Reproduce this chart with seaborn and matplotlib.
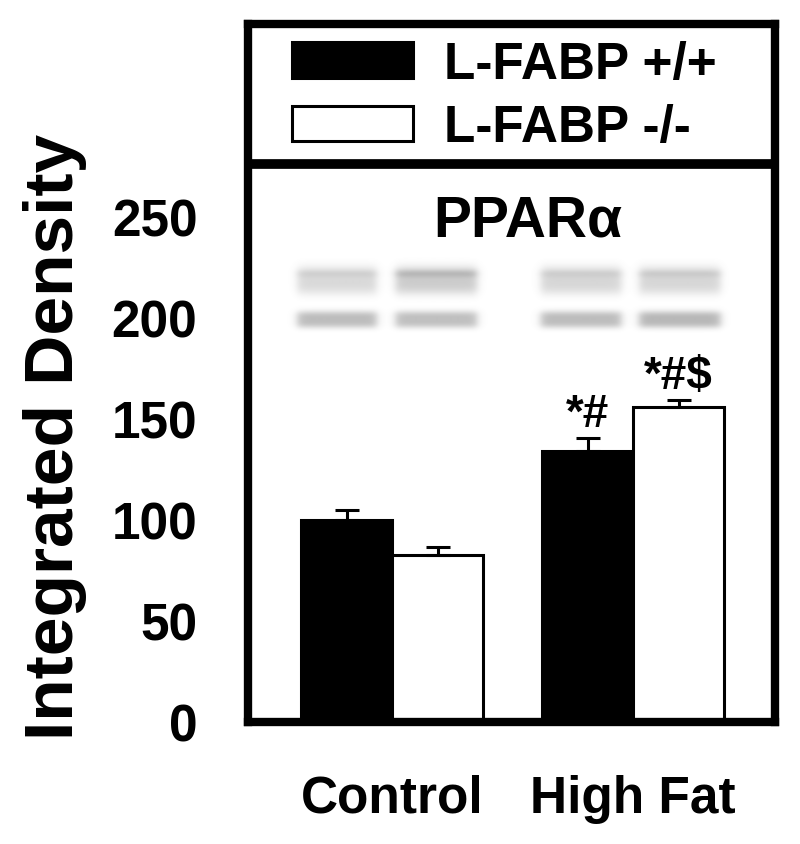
import matplotlib
matplotlib.use("Agg")
import matplotlib.pyplot as plt
import numpy as np
import pandas as pd
import seaborn as sns
from matplotlib.patches import Patch

# Dados
diets = ["Control", "High Fat"]
genotypes = ["L-FABP +/+", "L-FABP -/-"]
wt_values = [100, 134]
ko_values = [82.5, 156]
wt_sem = [5, 6.5]
ko_sem = [4, 3.5]
wt_marks = ["", "*#"]
ko_marks = ["", "*#$"]
y_ticks = [0, 50, 100, 150, 200, 250]

df = pd.DataFrame({
    "diet": diets * 2,
    "genotype": [genotypes[0]] * 2 + [genotypes[1]] * 2,
    "value": wt_values + ko_values,
})
sems = [wt_sem, ko_sem]
marks = [wt_marks, ko_marks]

sns.set_theme(style="white")
plt.rcParams["font.family"] = ["Liberation Sans", "DejaVu Sans"]
plt.rcParams["font.weight"] = "bold"
plt.rcParams["text.color"] = "black"
plt.rcParams["axes.labelcolor"] = "black"
plt.rcParams["xtick.color"] = "black"
plt.rcParams["ytick.color"] = "black"

fig = plt.figure(figsize=(8, 8.45), dpi=100)
ax = fig.add_axes([0.31, 0.1444, 0.65875, 0.826])

sns.barplot(
    data=df, x="diet", y="value", hue="genotype",
    palette={genotypes[0]: "black", genotypes[1]: "white"},
    edgecolor="black", linewidth=2.2, width=0.755, gap=0,
    errorbar=None, legend=False, ax=ax,
)

# Barras de erro (só para cima) e marcas de significância
bar_conts = list(ax.containers)
for i, cont in enumerate(bar_conts):
    for j, bar in enumerate(cont):
        xc = bar.get_x() + bar.get_width() / 2
        h = bar.get_height()
        ax.errorbar([xc], [h], yerr=[[0], [sems[i][j]]], fmt="none",
                    ecolor="black", elinewidth=2.2, capsize=8.3,
                    capthick=2.2, zorder=3)
        if marks[i][j]:
            ax.text(xc, h + sems[i][j] + 6, marks[i][j], ha="center",
                    va="baseline", fontsize=33, fontweight="bold")

ax.set_xlim(-0.598, 1.589)
ax.set_ylim(0, 345.5)
ax.set_yticks(y_ticks)
ax.set_xlabel("")
ax.set_ylabel("Integrated Density", fontsize=50, fontweight="bold")
ax.yaxis.set_label_coords(-0.305, 0.41)

for s in ax.spines.values():
    s.set_visible(True)
    s.set_linewidth(6)
    s.set_color("black")
ax.axhline(276.2, color="black", linewidth=7)

ax.tick_params(axis="both", direction="out", length=14.4, width=6,
               labelsize=37)
ax.tick_params(axis="y", pad=22)
ax.tick_params(axis="x", pad=23)
for lab in ax.get_xticklabels() + ax.get_yticklabels():
    lab.set_fontweight("bold")

ax.text(0.53, 240.6, "PPARα", transform=ax.get_yaxis_transform(),
        ha="center", va="baseline", fontsize=41, fontweight="bold")

# Legenda
handles = [Patch(facecolor="black", edgecolor="black", linewidth=2.2),
           Patch(facecolor="white", edgecolor="black", linewidth=2.2)]
ax.legend(handles, genotypes, loc="upper left",
          bbox_to_anchor=(0.0835, 0.977), frameon=False,
          handlelength=2.35, handleheight=0.68, handletextpad=0.6,
          labelspacing=0.28, borderpad=0, borderaxespad=0,
          prop={"weight": "bold", "size": 37})

# Imagem do western blot (decoração)
lanes = [(297, 376), (395, 476), (540, 620), (638, 719)]
upper_dark = [0.15, 0.2, 0.16, 0.16]
upper_line = [0.05, 0.1, 0.05, 0.06]
lower_dark = [0.26, 0.25, 0.26, 0.28]
bx0, bx1, by0, by1 = 285, 730, 258, 338
xs = np.arange(bx0, bx1)
ys = np.arange(by0, by1)[:, None]
img = np.zeros((len(ys), len(xs)))
for (l, r), du, dline, dl in zip(lanes, upper_dark, upper_line, lower_dark):
    edge = 1 / (1 + np.exp(-(xs - l) / 2.5)) * 1 / (1 + np.exp((xs - r) / 2.5))
    up = du * np.exp(-(np.abs(ys - 281) / 14.0) ** 3) \
        + dline * np.exp(-((ys - 274) / 4.0) ** 2)
    lo = dl * np.exp(-(np.abs(ys - 320) / 8.5) ** 3)
    img += (up + lo) * edge[None, :]
bax = fig.add_axes([bx0 / 800, 1 - by1 / 845, (bx1 - bx0) / 800, (by1 - by0) / 845])
bax.imshow(1 - img, cmap="gray", vmin=0, vmax=1, aspect="auto",
           interpolation="bilinear")
bax.axis("off")

fig.savefig("out.png", dpi=100)
